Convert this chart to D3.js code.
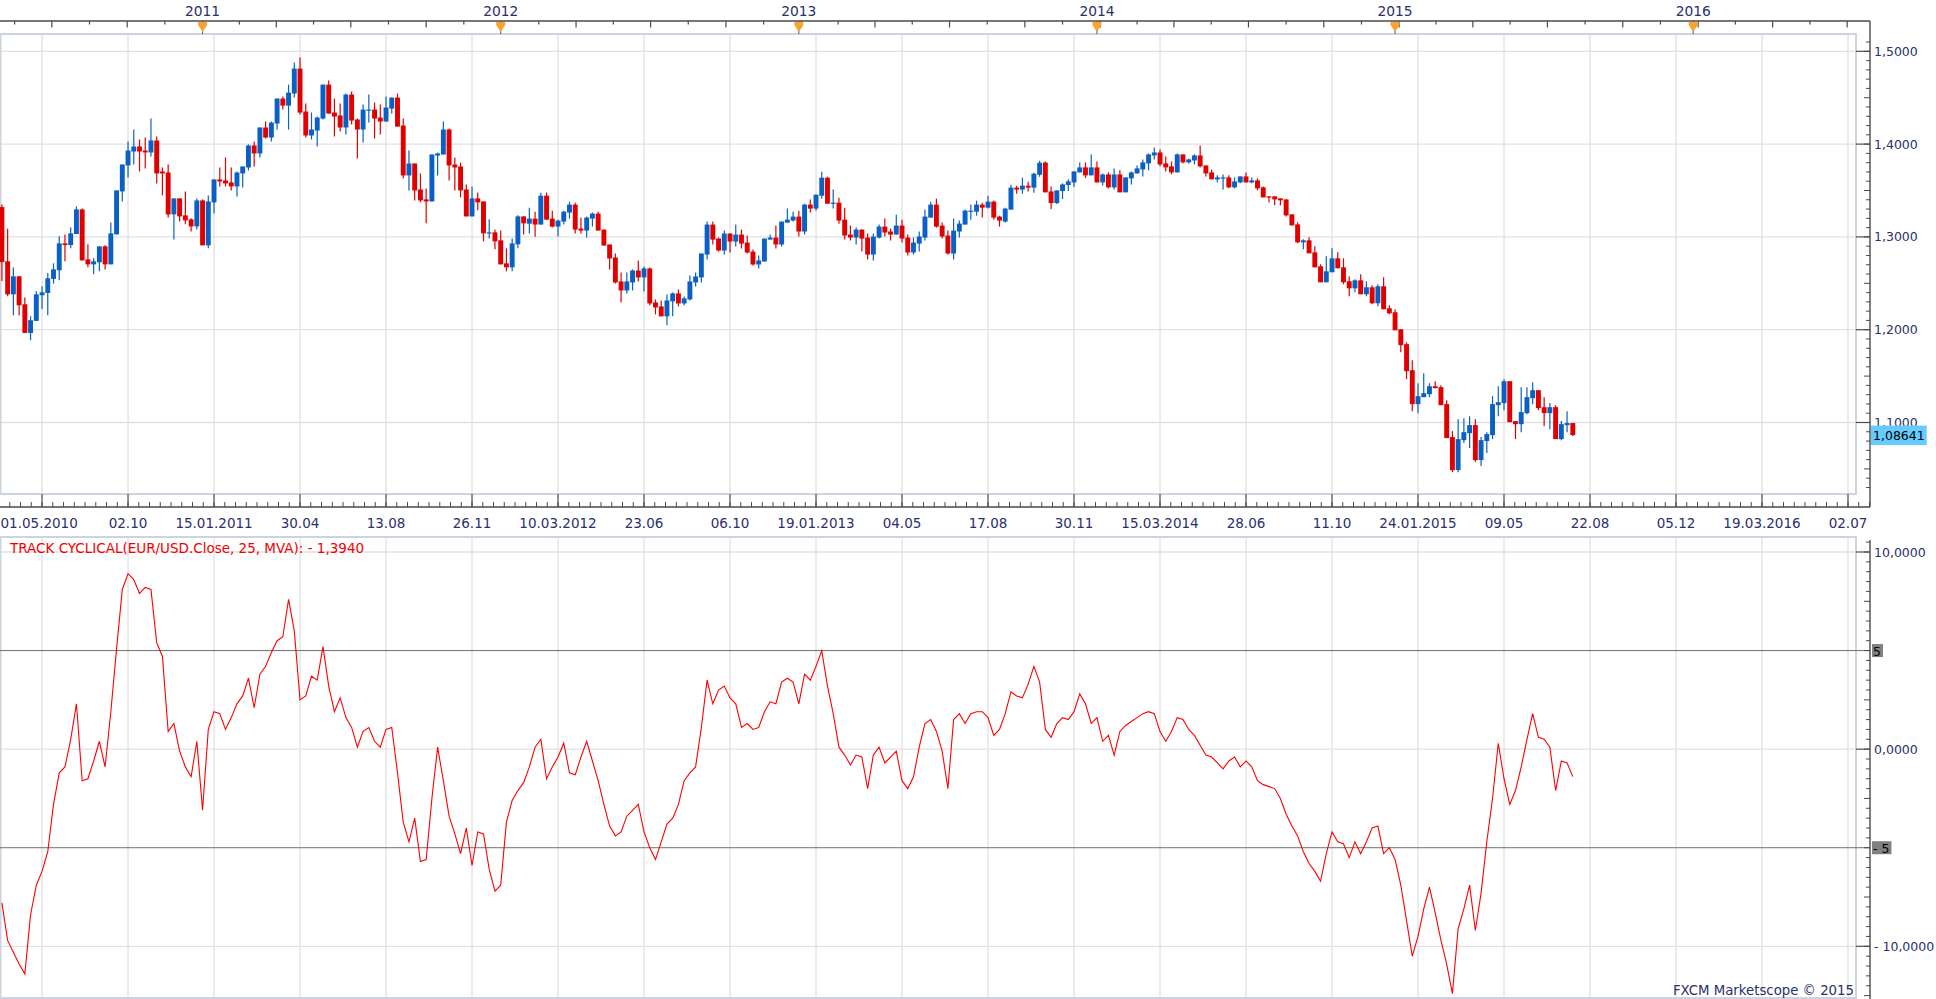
<!DOCTYPE html>
<html>
<head>
<meta charset="utf-8">
<title>EUR/USD weekly</title>
<script src="https://cdn.jsdelivr.net/npm/d3@7"></script>
<style>
  body { margin: 0; background: #fff; }
  svg text { font-family: "DejaVu Sans", Verdana, sans-serif; font-size: 12.5px; }
  svg text.date { font-size: 13.5px; }
  svg text.year { font-size: 13.8px; }
  svg text.caption { font-size: 13.5px; }
  svg text.mark { font-size: 13.3px; }
</style>
</head>
<body>
<svg id="chart" width="1936" height="999"></svg>
<script>
// one candle per week, first one dated 01.05.2010
var firstWeek = "2010-05-01";

var open = [1.3321,1.2737,1.2381,1.2575,1.2274,1.1965,1.2095,1.2371,1.2396,1.2547,
 1.2640,1.2930,1.2912,1.3031,1.3296,1.2758,1.2704,1.2726,1.2898,1.2704,
 1.3027,1.3490,1.3770,1.3920,1.3974,1.3931,1.3910,1.4039,1.3705,1.3694,
 1.3242,1.3415,1.3232,1.3189,1.3113,1.3393,1.2909,1.3372,1.3619,1.3608,
 1.3587,1.3544,1.3684,1.3748,1.3985,1.3899,1.4179,1.4071,1.4222,1.4491,
 1.4415,1.4545,1.4814,1.4351,1.4093,1.4146,1.4275,1.4641,1.4340,1.4308,
 1.4179,1.4534,1.4265,1.4157,1.4362,1.4372,1.4286,1.4243,1.4383,1.4501,
 1.4200,1.3662,1.3791,1.3511,1.3404,1.3382,1.3877,1.3888,1.4157,1.3780,
 1.3759,1.3511,1.3221,1.3415,1.3382,1.3038,1.3049,1.2963,1.2715,1.2672,
 1.2920,1.3221,1.3143,1.3197,1.3133,1.3444,1.3197,1.3111,1.3165,1.3262,
 1.3348,1.3090,1.3068,1.3197,1.3251,1.3079,1.2918,1.2778,1.2520,1.2423,
 1.2509,1.2638,1.2563,1.2660,1.2294,1.2251,1.2144,1.2305,1.2391,1.2283,
 1.2326,1.2509,1.2563,1.2810,1.3133,1.2982,1.2853,1.3036,1.2950,1.3025,
 1.2939,1.2842,1.2703,1.2735,1.2971,1.2993,1.2918,1.3154,1.3176,1.3219,
 1.3058,1.3348,1.3305,1.3444,1.3638,1.3358,1.3369,1.3186,1.3025,1.2993,
 1.3079,1.2993,1.2810,1.2993,1.3111,1.3058,1.3025,1.3122,1.2993,1.2832,
 1.2928,1.2993,1.3208,1.3348,1.3122,1.3015,1.2821,1.3058,1.3133,1.3276,
 1.3272,1.3348,1.3315,1.3380,1.3219,1.3165,1.3294,1.3531,1.3510,1.3552,
 1.3531,1.3670,1.3801,1.3490,1.3365,1.3494,1.3559,1.3587,1.3695,1.3749,
 1.3663,1.3749,1.3587,1.3673,1.3534,1.3673,1.3480,1.3630,1.3684,1.3727,
 1.3792,1.3878,1.3910,1.3792,1.3760,1.3695,1.3889,1.3803,1.3824,1.3878,
 1.3770,1.3695,1.3620,1.3630,1.3641,1.3534,1.3587,1.3652,1.3587,1.3609,
 1.3534,1.3437,1.3437,1.3415,1.3404,1.3243,1.3135,1.2941,1.2963,1.2834,
 1.2683,1.2511,1.2619,1.2769,1.2672,1.2522,1.2446,1.2532,1.2382,1.2457,
 1.2285,1.2468,1.2231,1.2188,1.2005,1.1844,1.1564,1.1198,1.1273,1.1305,
 1.1391,1.1381,1.1198,1.0843,1.0487,1.0810,1.0885,1.0972,1.0595,1.0800,
 1.0864,1.1187,1.1209,1.1445,1.1015,1.0982,1.1101,1.1262,1.1348,1.1165,
 1.1101,1.1165,1.0821,1.0972,1.0994];

var high = [1.3350,1.3088,1.2669,1.2575,1.2346,1.2145,1.2417,1.2468,1.2611,1.2715,
 1.3006,1.3027,1.3103,1.3329,1.3307,1.2920,1.2769,1.2898,1.2909,1.3156,
 1.3501,1.3780,1.4028,1.4157,1.4050,1.4071,1.4275,1.4082,1.3748,1.3780,
 1.3415,1.3415,1.3490,1.3200,1.3415,1.3404,1.3447,1.3619,1.3748,1.3856,
 1.3748,1.3705,1.3759,1.3996,1.4028,1.4179,1.4243,1.4243,1.4491,1.4512,
 1.4641,1.4878,1.4932,1.4437,1.4340,1.4297,1.4641,1.4684,1.4491,1.4437,
 1.4545,1.4566,1.4275,1.4426,1.4534,1.4448,1.4426,1.4512,1.4501,1.4545,
 1.4275,1.3931,1.3791,1.3684,1.3522,1.3888,1.3910,1.4243,1.4168,1.3856,
 1.3802,1.3565,1.3544,1.3479,1.3382,1.3189,1.3081,1.3070,1.2877,1.2984,
 1.3232,1.3221,1.3315,1.3272,1.3477,1.3477,1.3283,1.3186,1.3283,1.3380,
 1.3369,1.3208,1.3219,1.3262,1.3272,1.3079,1.2918,1.2821,1.2617,1.2617,
 1.2649,1.2746,1.2681,1.2670,1.2326,1.2315,1.2380,1.2401,1.2434,1.2358,
 1.2584,1.2617,1.2821,1.3165,1.3165,1.2993,1.3068,1.3036,1.3133,1.3079,
 1.3015,1.2864,1.2799,1.2982,1.3025,1.3122,1.3165,1.3305,1.3272,1.3283,
 1.3358,1.3402,1.3455,1.3703,1.3649,1.3510,1.3423,1.3315,1.3122,1.3100,
 1.3079,1.3036,1.3036,1.3133,1.3197,1.3090,1.3240,1.3186,1.3025,1.2993,
 1.3058,1.3294,1.3380,1.3412,1.3154,1.3068,1.3197,1.3176,1.3294,1.3348,
 1.3391,1.3369,1.3444,1.3391,1.3229,1.3315,1.3563,1.3552,1.3638,1.3595,
 1.3692,1.3821,1.3812,1.3544,1.3501,1.3577,1.3620,1.3706,1.3803,1.3803,
 1.3889,1.3813,1.3684,1.3695,1.3738,1.3717,1.3641,1.3706,1.3770,1.3835,
 1.3900,1.3964,1.3943,1.3867,1.3813,1.3900,1.3889,1.3846,1.3889,1.3986,
 1.3770,1.3727,1.3663,1.3673,1.3663,1.3641,1.3652,1.3695,1.3641,1.3630,
 1.3544,1.3437,1.3437,1.3415,1.3404,1.3243,1.3157,1.2974,1.2995,1.2898,
 1.2705,1.2791,1.2877,1.2834,1.2769,1.2575,1.2543,1.2597,1.2522,1.2479,
 1.2489,1.2564,1.2263,1.2220,1.2005,1.1865,1.1671,1.1424,1.1531,1.1424,
 1.1445,1.1402,1.1241,1.0907,1.1036,1.1047,1.1068,1.1036,1.0843,1.0896,
 1.1284,1.1391,1.1467,1.1445,1.1015,1.1381,1.1381,1.1435,1.1348,1.1273,
 1.1209,1.1187,1.1015,1.1122,1.0994];

var low = [1.2525,1.2360,1.2156,1.2156,1.1965,1.1887,1.2095,1.2224,1.2156,1.2496,
 1.2532,1.2737,1.2877,1.3031,1.2747,1.2672,1.2597,1.2629,1.2650,1.2704,
 1.3027,1.3382,1.3641,1.3780,1.3705,1.3737,1.3867,1.3576,1.3447,1.3210,
 1.2973,1.3167,1.3135,1.3059,1.3081,1.2909,1.2877,1.3253,1.3544,1.3544,
 1.3501,1.3436,1.3533,1.3716,1.3759,1.3856,1.4060,1.4028,1.4157,1.4372,
 1.4157,1.4501,1.4319,1.4071,1.4050,1.3974,1.4265,1.4329,1.4082,1.4136,
 1.4104,1.4211,1.3845,1.4017,1.4232,1.4060,1.4104,1.4243,1.4329,1.4189,
 1.3630,1.3501,1.3393,1.3372,1.3146,1.3382,1.3662,1.3888,1.3608,1.3501,
 1.3425,1.3221,1.3221,1.3286,1.2952,1.2984,1.2866,1.2704,1.2629,1.2629,
 1.2877,1.3027,1.3036,1.3002,1.3133,1.3186,1.3100,1.3004,1.3133,1.3197,
 1.3036,1.3036,1.2993,1.3111,1.3068,1.2907,1.2649,1.2498,1.2294,1.2391,
 1.2423,1.2520,1.2412,1.2262,1.2165,1.2144,1.2047,1.2144,1.2251,1.2262,
 1.2315,1.2466,1.2509,1.2756,1.2918,1.2842,1.2810,1.2832,1.2896,1.2875,
 1.2821,1.2692,1.2660,1.2735,1.2971,1.2875,1.2896,1.3154,1.3165,1.3004,
 1.3025,1.3262,1.3283,1.3412,1.3358,1.3305,1.3143,1.2971,1.2961,1.2918,
 1.2842,1.2756,1.2746,1.2982,1.3004,1.2961,1.3025,1.2939,1.2799,1.2810,
 1.2842,1.2961,1.3208,1.3100,1.2982,1.2810,1.2756,1.2993,1.3133,1.3186,
 1.3229,1.3208,1.3305,1.3186,1.3111,1.3154,1.3294,1.3466,1.3466,1.3488,
 1.3477,1.3649,1.3480,1.3300,1.3354,1.3408,1.3494,1.3537,1.3695,1.3634,
 1.3663,1.3587,1.3555,1.3523,1.3512,1.3480,1.3480,1.3566,1.3684,1.3652,
 1.3717,1.3835,1.3760,1.3706,1.3673,1.3695,1.3792,1.3792,1.3781,1.3749,
 1.3652,1.3620,1.3587,1.3512,1.3523,1.3523,1.3577,1.3587,1.3577,1.3501,
 1.3426,1.3372,1.3340,1.3340,1.3221,1.3124,1.2931,1.2866,1.2823,1.2672,
 1.2511,1.2511,1.2619,1.2662,1.2489,1.2360,1.2403,1.2382,1.2360,1.2274,
 1.2253,1.2220,1.2166,1.1994,1.1757,1.1467,1.1122,1.1101,1.1273,1.1273,
 1.1370,1.1187,1.0832,1.0465,1.0465,1.0778,1.0724,1.0574,1.0530,1.0670,
 1.0821,1.1068,1.1133,1.1004,1.0821,1.0896,1.1090,1.1198,1.1133,1.0960,
 1.0928,1.0821,1.0810,1.0896,1.0854];

var close = [1.2729,1.2381,1.2575,1.2263,1.1965,1.2102,1.2381,1.2403,1.2554,1.2650,
 1.2930,1.2912,1.3038,1.3296,1.2747,1.2704,1.2737,1.2898,1.2704,1.3038,
 1.3501,1.3780,1.3931,1.3974,1.3920,1.3910,1.4039,1.3684,1.3684,1.3242,
 1.3415,1.3221,1.3178,1.3113,1.3393,1.2909,1.3382,1.3619,1.3598,1.3576,
 1.3544,1.3694,1.3759,1.3985,1.3899,1.4179,1.4071,1.4232,1.4491,1.4415,
 1.4555,1.4814,1.4340,1.4093,1.4157,1.4286,1.4641,1.4329,1.4297,1.4179,
 1.4534,1.4254,1.4157,1.4372,1.4372,1.4275,1.4243,1.4394,1.4501,1.4189,
 1.3662,1.3791,1.3501,1.3393,1.3382,1.3888,1.3899,1.4157,1.3770,1.3748,
 1.3501,1.3221,1.3415,1.3372,1.3038,1.3049,1.2952,1.2704,1.2672,1.2930,
 1.3221,1.3146,1.3197,1.3133,1.3444,1.3186,1.3111,1.3176,1.3272,1.3348,
 1.3079,1.3068,1.3208,1.3251,1.3068,1.2907,1.2767,1.2509,1.2423,1.2520,
 1.2638,1.2563,1.2660,1.2283,1.2240,1.2144,1.2315,1.2391,1.2283,1.2337,
 1.2520,1.2574,1.2821,1.3133,1.2971,1.2853,1.3036,1.2950,1.3025,1.2928,
 1.2832,1.2703,1.2746,1.2982,1.2993,1.2918,1.3165,1.3186,1.3219,1.3058,
 1.3348,1.3305,1.3455,1.3638,1.3358,1.3369,1.3176,1.3015,1.2993,1.3079,
 1.2982,1.2810,1.3004,1.3111,1.3047,1.3025,1.3122,1.2982,1.2832,1.2939,
 1.3004,1.3219,1.3348,1.3111,1.3004,1.2821,1.3068,1.3143,1.3283,1.3283,
 1.3348,1.3315,1.3380,1.3208,1.3176,1.3305,1.3531,1.3510,1.3552,1.3531,
 1.3681,1.3799,1.3480,1.3365,1.3501,1.3566,1.3598,1.3706,1.3749,1.3663,
 1.3749,1.3587,1.3673,1.3534,1.3673,1.3480,1.3641,1.3695,1.3738,1.3803,
 1.3889,1.3910,1.3781,1.3749,1.3695,1.3889,1.3803,1.3835,1.3878,1.3760,
 1.3684,1.3620,1.3641,1.3641,1.3534,1.3598,1.3652,1.3587,1.3609,1.3523,
 1.3426,1.3426,1.3404,1.3394,1.3232,1.3124,1.2941,1.2963,1.2823,1.2672,
 1.2511,1.2629,1.2769,1.2662,1.2511,1.2446,1.2532,1.2382,1.2457,1.2285,
 1.2468,1.2220,1.2177,1.1994,1.1833,1.1553,1.1198,1.1284,1.1316,1.1391,
 1.1370,1.1187,1.0832,1.0487,1.0821,1.0896,1.0972,1.0595,1.0810,1.0875,
 1.1198,1.1219,1.1445,1.1004,1.0982,1.1112,1.1273,1.1348,1.1155,1.1101,
 1.1165,1.0821,1.0982,1.0994,1.08641];

// TRACK CYCLICAL indicator, one value per week
var cyclical = [-7.8,-9.7,-10.3,-10.9,-11.4,-8.4,-6.9,-6.2,-5.2,-2.8,
 -1.2,-0.9,0.5,2.3,-1.6,-1.5,-0.6,0.4,-0.9,1.9,
 5.1,8.1,8.9,8.6,7.9,8.2,8.1,5.4,4.7,0.9,
 1.3,-0.1,-0.9,-1.4,0.4,-3.1,1.0,1.9,1.8,1.0,
 1.6,2.3,2.7,3.6,2.1,3.8,4.2,4.9,5.5,5.7,
 7.6,6.0,2.5,2.7,3.7,3.5,5.2,3.2,1.9,2.6,
 1.6,1.1,0.1,0.9,1.1,0.4,0.1,1.0,1.1,-1.2,
 -3.7,-4.7,-3.5,-5.7,-5.6,-2.5,0.1,-1.6,-3.4,-4.3,
 -5.3,-4.0,-5.9,-4.2,-4.3,-6.1,-7.2,-6.9,-3.7,-2.6,
 -2.1,-1.7,-0.9,0.1,0.5,-1.5,-0.9,-0.4,0.3,-1.2,
 -1.3,-0.4,0.4,-0.6,-1.6,-2.8,-3.9,-4.4,-4.2,-3.4,
 -3.1,-2.8,-4.2,-5.0,-5.6,-4.7,-3.8,-3.5,-2.8,-1.6,
 -1.2,-0.9,1.1,3.5,2.3,3.0,3.2,2.6,2.3,1.1,
 1.3,1.0,1.1,1.9,2.4,2.3,3.4,3.6,3.4,2.3,
 3.8,3.5,4.2,5.0,3.2,1.8,0.1,-0.3,-0.8,-0.3,
 -0.4,-2.0,-0.3,0.1,-0.7,-0.4,-0.1,-1.6,-2.0,-1.4,
 0.1,1.3,1.5,0.9,-0.1,-2.0,1.5,1.8,1.3,1.8,
 1.9,1.9,1.6,0.7,1.0,1.8,2.9,2.7,2.6,3.3,
 4.2,3.4,1.0,0.6,1.3,1.6,1.5,1.9,2.8,2.3,
 1.3,1.6,0.4,0.7,-0.3,0.9,1.2,1.4,1.6,1.8,
 1.9,1.8,0.9,0.4,0.9,1.6,1.5,1.0,0.7,0.2,
 -0.3,-0.4,-0.7,-1.0,-0.6,-0.4,-0.9,-0.6,-0.9,-1.6,
 -1.8,-1.9,-2.0,-2.5,-3.3,-3.9,-4.4,-5.2,-5.8,-6.2,
 -6.7,-5.3,-4.2,-4.7,-4.8,-5.5,-4.7,-5.3,-4.7,-4.0,
 -3.9,-5.3,-5.0,-5.6,-6.9,-8.7,-10.5,-9.5,-8.1,-7.0,
 -8.3,-9.7,-10.9,-12.4,-9.1,-8.1,-6.9,-9.2,-7.3,-4.7,
 -2.5,0.3,-1.5,-2.8,-2.1,-0.9,0.5,1.8,0.6,0.5,
 0.1,-2.1,-0.6,-0.7,-1.394];

var indicatorName = "TRACK CYCLICAL(EUR/USD.Close, 25, MVA)";
var indicatorLevels = [5, -5];

// date axis (bottom of price panel)
var tickDates = ["2010-06-19","2010-10-02","2011-01-15","2011-04-30","2011-08-13","2011-11-26",
 "2012-03-10","2012-06-23","2012-10-06","2013-01-19","2013-05-04","2013-08-17","2013-11-30",
 "2014-03-15","2014-06-28","2014-10-11","2015-01-24","2015-05-09","2015-08-22","2015-12-05",
 "2016-03-19","2016-07-02"];
var tickLabels = ["","02.10","15.01.2011","30.04","13.08","26.11","10.03.2012","23.06","06.10",
 "19.01.2013","04.05","17.08","30.11","15.03.2014","28.06","11.10","24.01.2015","09.05","22.08",
 "05.12","19.03.2016","02.07"];
var startLabel = "01.05.2010";

// year markers on the top ruler
var yearLabels = ["2011","2012","2013","2014","2015","2016"];
var yearDates = ["2011-01-01","2011-12-31","2012-12-29","2013-12-28","2014-12-27","2015-12-26"];

var priceTicks = [1.1, 1.2, 1.3, 1.4, 1.5];
var indTicks = [10, 0, -10];

var ink = "#2b2f6e", grid = "#e1e1e1", frame = "#ccd4df";
var upColor = "#0a60c4", downColor = "#e00000";

var pricePanel = {x0: 0.5, x1: 1856, y0: 34, y1: 494};
var indPanel = {x0: 0.5, x1: 1856, y0: 537, y1: 998};
var axisX = 1870;

var parseDay = d3.utcParse("%Y-%m-%d");
var start = parseDay(firstWeek);
var weeks = close.map(function(d, i) { return d3.utcDay.offset(start, 7 * i); });

var x = d3.scaleUtc()
    .domain([start, parseDay("2016-07-02")])
    .range([1.9, 1848]);
var y = d3.scaleLinear().domain([1.1, 1.5]).range([422.5, 51.3]);
var yInd = d3.scaleLinear().domain([-10, 10]).range([946.3, 552]);

function comma(v, n) {
  var s = d3.format("." + n + "f")(Math.abs(v)).replace(".", ",");
  return v < 0 ? "- " + s : s;
}

var svg = d3.select("#chart");

// grid
[pricePanel, indPanel].forEach(function(p) {
  svg.append("g").selectAll("line")
      .data(tickDates)
    .enter().append("line")
      .attr("x1", function(d) { return x(parseDay(d)); })
      .attr("x2", function(d) { return x(parseDay(d)); })
      .attr("y1", p.y0).attr("y2", p.y1)
      .attr("stroke", grid).attr("stroke-width", 1.3);
});
svg.append("g").selectAll("line")
    .data(priceTicks)
  .enter().append("line")
    .attr("x1", pricePanel.x0).attr("x2", pricePanel.x1)
    .attr("y1", function(d) { return y(d); })
    .attr("y2", function(d) { return y(d); })
    .attr("stroke", grid).attr("stroke-width", 1.3);
svg.append("g").selectAll("line")
    .data(indTicks)
  .enter().append("line")
    .attr("x1", indPanel.x0).attr("x2", indPanel.x1)
    .attr("y1", function(d) { return yInd(d); })
    .attr("y2", function(d) { return yInd(d); })
    .attr("stroke", grid).attr("stroke-width", 1.3);

// panel frames
[pricePanel, indPanel].forEach(function(p) {
  svg.append("rect")
      .attr("x", p.x0).attr("y", p.y0)
      .attr("width", p.x1 - p.x0).attr("height", p.y1 - p.y0)
      .attr("fill", "none").attr("stroke", frame).attr("stroke-width", 2);
});

// indicator levels
svg.append("g").selectAll("line")
    .data(indicatorLevels)
  .enter().append("line")
    .attr("x1", 0).attr("x2", axisX)
    .attr("y1", function(d) { return yInd(d); })
    .attr("y2", function(d) { return yInd(d); })
    .attr("stroke", "#6e6e6e").attr("stroke-width", 1);

// candles
var bw = 4.9;
var candles = svg.append("g").selectAll("g")
    .data(weeks)
  .enter().append("g");
candles.append("line")
    .attr("x1", function(d) { return x(d); })
    .attr("x2", function(d) { return x(d); })
    .attr("y1", function(d, i) { return y(high[i]); })
    .attr("y2", function(d, i) { return y(low[i]); })
    .attr("stroke", function(d, i) { return close[i] >= open[i] ? upColor : downColor; })
    .attr("stroke-width", 1.2);
candles.append("rect")
    .attr("x", function(d) { return x(d) - bw / 2; })
    .attr("width", bw)
    .attr("y", function(d, i) { return y(Math.max(open[i], close[i])); })
    .attr("height", function(d, i) { return Math.max(1.2, Math.abs(y(open[i]) - y(close[i]))); })
    .attr("fill", function(d, i) { return close[i] >= open[i] ? upColor : downColor; });

// indicator line
var indLine = d3.line()
    .x(function(d, i) { return x(weeks[i]); })
    .y(function(d) { return yInd(d); });
svg.append("path")
    .datum(cyclical)
    .attr("d", indLine)
    .attr("fill", "none")
    .attr("stroke", "#ff0000")
    .attr("stroke-width", 1.1);

// top ruler
svg.append("line")
    .attr("x1", 0).attr("x2", axisX).attr("y1", 21).attr("y2", 21)
    .attr("stroke", "#4a4a4a").attr("stroke-width", 1.4);
var quarters = d3.utcMonth.every(3).range(parseDay("2010-04-01"), parseDay("2016-10-02"))
    .map(function(d) { return x(d); })
    .filter(function(v) { return v > -40 && v < axisX + 40; });
var mids = quarters.slice(1).map(function(v, i) { return (v + quarters[i]) / 2; });
svg.append("g").selectAll("line")
    .data(quarters.filter(function(v) { return v > 0 && v < axisX; }))
  .enter().append("line")
    .attr("x1", function(d) { return d; }).attr("x2", function(d) { return d; })
    .attr("y1", 21).attr("y2", 27.5)
    .attr("stroke", "#4a4a4a").attr("stroke-width", 1.2);
svg.append("g").selectAll("line")
    .data(mids.filter(function(v) { return v > 0 && v < axisX; }))
  .enter().append("line")
    .attr("x1", function(d) { return d; }).attr("x2", function(d) { return d; })
    .attr("y1", 21).attr("y2", 24.5)
    .attr("stroke", "#4a4a4a").attr("stroke-width", 1.2);

var years = svg.append("g").selectAll("g")
    .data(yearDates)
  .enter().append("g")
    .attr("transform", function(d) { return "translate(" + x(parseDay(d)) + ",0)"; });
years.append("line")
    .attr("y1", 21).attr("y2", 34)
    .attr("stroke", "#555").attr("stroke-width", 1);
years.append("path")
    .attr("d", "M-4.5,22L4.5,22L4.5,25L0,32L-4.5,25Z")
    .attr("fill", "#f7a531");
years.append("text")
    .attr("class", "year")
    .attr("y", 11)
    .attr("dominant-baseline", "central")
    .style("text-anchor", "middle")
    .attr("fill", ink)
    .text(function(d, i) { return yearLabels[i]; });

// right price axis
svg.append("line")
    .attr("x1", axisX).attr("x2", axisX).attr("y1", 21).attr("y2", 507)
    .attr("stroke", "#4a4a4a").attr("stroke-width", 1.4);
var priceMinor = d3.range(103, 152).map(function(k) { return k / 100; });
svg.append("g").selectAll("line")
    .data(priceMinor)
  .enter().append("line")
    .attr("x1", function(d) { return Math.round(d * 100) % 5 === 0 ? axisX - 6 : axisX - 4; })
    .attr("x2", axisX)
    .attr("y1", function(d) { return y(d); }).attr("y2", function(d) { return y(d); })
    .attr("stroke", "#4a4a4a").attr("stroke-width", 1);
svg.append("g").selectAll("line")
    .data(priceTicks)
  .enter().append("line")
    .attr("x1", pricePanel.x1).attr("x2", axisX)
    .attr("y1", function(d) { return y(d); }).attr("y2", function(d) { return y(d); })
    .attr("stroke", "#4a4a4a").attr("stroke-width", 1.2);
svg.append("g").selectAll("text")
    .data(priceTicks)
  .enter().append("text")
    .attr("x", axisX + 4)
    .attr("y", function(d) { return y(d); })
    .attr("dominant-baseline", "central")
    .attr("fill", ink)
    .text(function(d) { return comma(d, 4); });

// last price box
var last = close[close.length - 1];
var lastG = svg.append("g");
var lastText = lastG.append("text")
    .attr("x", axisX + 3)
    .attr("y", y(last) + 0.5)
    .attr("dominant-baseline", "central")
    .attr("fill", "#000")
    .text(comma(last, 5));
var lw = lastText.node().getComputedTextLength();
lastG.insert("rect", "text")
    .attr("x", axisX + 1).attr("y", y(last) - 9.5)
    .attr("width", lw + 4).attr("height", 19.5)
    .attr("fill", "#66ccff");

// bottom date axis
svg.append("line")
    .attr("x1", 0).attr("x2", axisX).attr("y1", 507).attr("y2", 507)
    .attr("stroke", "#4a4a4a").attr("stroke-width", 1.4);
var tickX = tickDates.map(function(d) { return x(parseDay(d)); });
var step = (tickX[1] - tickX[0]) / 8;
var minorX = d3.range(-8, tickX.length * 8).map(function(k) { return tickX[0] + k * step; })
    .filter(function(v) { return v > 0 && v < axisX; });
svg.append("g").selectAll("line")
    .data(minorX)
  .enter().append("line")
    .attr("x1", function(d) { return d; }).attr("x2", function(d) { return d; })
    .attr("y1", 502).attr("y2", 507)
    .attr("stroke", "#4a4a4a").attr("stroke-width", 1);
svg.append("g").selectAll("line")
    .data(tickX)
  .enter().append("line")
    .attr("x1", function(d) { return d; }).attr("x2", function(d) { return d; })
    .attr("y1", 494).attr("y2", 507)
    .attr("stroke", "#4a4a4a").attr("stroke-width", 1.2);
svg.append("g").selectAll("text")
    .data(tickLabels)
  .enter().append("text")
    .attr("class", "date")
    .attr("x", function(d, i) { return tickX[i]; })
    .attr("y", 523)
    .attr("dominant-baseline", "central")
    .style("text-anchor", "middle")
    .attr("fill", ink)
    .text(function(d) { return d; });
svg.append("text")
    .attr("class", "date")
    .attr("x", 0.5).attr("y", 523)
    .attr("dominant-baseline", "central")
    .attr("fill", ink)
    .text(startLabel);

// indicator axis
svg.append("line")
    .attr("x1", axisX).attr("x2", axisX).attr("y1", 540).attr("y2", 999)
    .attr("stroke", "#4a4a4a").attr("stroke-width", 1.4);
var indMinor = d3.range(-25, 22).map(function(k) { return k / 2; })
    .filter(function(v) { return yInd(v) > 539 && yInd(v) < 998; });
svg.append("g").selectAll("line")
    .data(indMinor)
  .enter().append("line")
    .attr("x1", function(d) { return (d * 2) % 5 === 0 ? axisX - 6 : axisX - 4; })
    .attr("x2", axisX)
    .attr("y1", function(d) { return yInd(d); }).attr("y2", function(d) { return yInd(d); })
    .attr("stroke", "#4a4a4a").attr("stroke-width", 1);
svg.append("g").selectAll("line")
    .data(indTicks)
  .enter().append("line")
    .attr("x1", indPanel.x1).attr("x2", axisX)
    .attr("y1", function(d) { return yInd(d); }).attr("y2", function(d) { return yInd(d); })
    .attr("stroke", "#4a4a4a").attr("stroke-width", 1.2);
svg.append("g").selectAll("text")
    .data(indTicks)
  .enter().append("text")
    .attr("x", axisX + 4)
    .attr("y", function(d) { return yInd(d); })
    .attr("dominant-baseline", "central")
    .attr("fill", ink)
    .text(function(d) { return comma(d, 4); });

var levelG = svg.append("g").selectAll("g")
    .data(indicatorLevels)
  .enter().append("g");
levelG.append("text")
    .attr("x", axisX + 3)
    .attr("y", function(d) { return yInd(d) + 0.5; })
    .attr("dominant-baseline", "central")
    .attr("fill", "#000")
    .text(function(d) { return comma(d, 0); });
levelG.each(function(d) {
  var g = d3.select(this);
  var w = g.select("text").node().getComputedTextLength();
  g.insert("rect", "text")
      .attr("x", axisX + 2).attr("y", yInd(d) - 6.5)
      .attr("width", w + 3).attr("height", 13)
      .attr("fill", "#808080");
});

// indicator caption and watermark
svg.append("text")
    .attr("class", "caption")
    .attr("x", 10).attr("y", 548)
    .attr("dominant-baseline", "central")
    .attr("fill", "#f00000")
    .text(indicatorName + ": " + comma(cyclical[cyclical.length - 1], 4));
svg.append("text")
    .attr("class", "mark")
    .attr("x", 1854).attr("y", 990)
    .attr("dominant-baseline", "central")
    .style("text-anchor", "end")
    .attr("fill", ink)
    .text("FXCM Marketscope \u00a9 2015");
</script>
</body>
</html>
